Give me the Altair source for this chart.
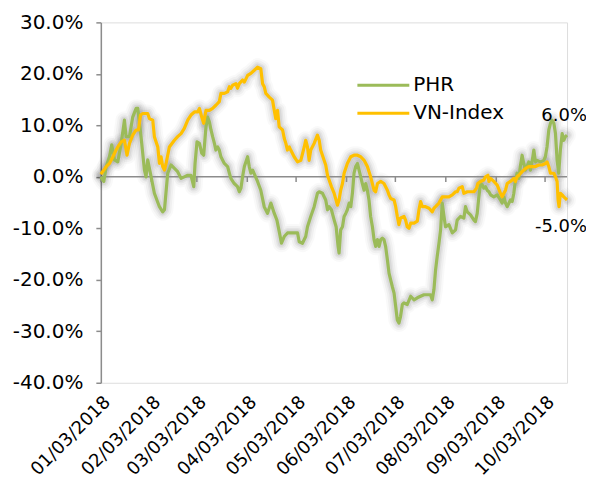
import altair as alt
import pandas as pd

# ---- data (days since 03 Jan 2018, cumulative return in %) ----
phr_day = [0.0, 1.8, 3.3, 5.3, 6.7, 8.4, 10.4, 12.5, 14.5, 15.5, 17.6, 19.6, 21.7, 22.7, 24.7, 26.8, 27.8, 28.8,
           30.9, 32.9, 36.0, 38.0, 39.1, 41.1, 43.1, 47.2, 49.3, 51.3, 53.4, 55.4, 57.1, 57.9, 59.1, 60.6, 62.0,
           63.2, 64.6, 65.6, 66.7, 67.7, 68.7, 69.8, 70.7, 71.8, 72.8, 73.8, 75.9, 77.9, 79.0, 79.9, 82.0, 84.0,
           85.1, 86.1, 87.1, 88.2, 90.2, 91.2, 92.2, 93.3, 94.7, 96.3, 98.3, 100.4, 102.4, 104.5, 106.6, 108.2,
           109.6, 111.0, 112.7, 114.7, 116.7, 118.8, 120.9, 121.9, 123.9, 125.9, 127.0, 129.0, 131.1, 133.1,
           134.2, 136.2, 138.2, 139.3, 140.3, 141.7, 143.4, 144.6, 145.8, 146.4, 147.4, 148.5, 149.5, 150.5,
           151.5, 152.6, 153.6, 154.6, 155.6, 156.6, 157.7, 158.7, 159.7, 160.7, 161.8, 162.8, 163.8, 164.8,
           165.8, 166.9, 167.9, 168.9, 170.0, 171.0, 172.0, 173.0, 174.0, 175.0, 176.1, 177.1, 178.1, 179.1,
           180.2, 181.2, 182.2, 183.2, 184.2, 185.3, 186.3, 188.3, 190.4, 192.5, 194.5, 196.5, 198.6, 200.6,
           202.6, 203.7, 204.7, 205.7, 206.7, 207.8, 208.8, 209.8, 210.9, 211.8, 213.9, 216.0, 218.0, 219.0,
           221.0, 223.1, 224.1, 225.2, 227.2, 229.3, 230.2, 231.3, 232.3, 233.3, 234.4, 235.4, 236.4, 237.4,
           238.5, 239.5, 241.5, 243.6, 245.6, 246.6, 247.7, 248.7, 249.7, 251.7, 252.8, 253.8, 254.8, 255.8,
           256.9, 257.8, 258.9, 259.9, 260.9, 262.0, 263.0, 264.0, 265.0, 266.1, 267.1, 268.1, 270.1, 272.2,
           273.2, 274.2, 275.3, 276.3, 277.3, 278.4, 279.4, 280.4, 281.4, 282.4, 283.5, 284.5, 285.5, 286.5]
phr_val = [0.0, -0.9, 2.0, 3.9, 6.2, 3.3, 2.9, 6.5, 11.0, 7.8, 7.8, 11.6, 13.3, 13.3, 7.8, 1.3, 0.0, 3.3,
           0.0, -3.2, -5.8, -6.8, -6.4, 0.7, 2.3, 1.0, -0.3, 0.0, 0.3, 0.3, -1.9, 2.6, 6.8, 6.5, 4.6,
           4.2, 9.7, 11.6, 10.7, 9.1, 7.8, 6.5, 5.2, 5.8, 5.2, 3.9, 2.6, 2.0, 0.7, -0.3, -1.3, -1.9,
           -2.9, -2.2, 0.0, 2.0, 3.9, 2.0, 0.7, 1.3, 0.3, -0.9, -2.6, -5.8, -7.1, -5.1, -7.1, -8.4,
           -10.6, -12.9, -11.6, -10.9, -10.9, -10.9, -10.9, -12.6, -12.9, -11.6, -9.7, -7.7, -5.8, -3.2,
           -2.9, -3.2, -4.5, -6.4, -5.8, -6.4, -8.4, -9.7, -13.5, -14.8, -10.3, -9.7, -7.7, -7.1,
           -6.4, -5.1, -5.8, -3.2, 0.7, 2.0, 2.6, 1.3, 0.0, -1.3, -2.6, -1.3, -2.6, -4.5,
           -7.7, -9.7, -12.2, -13.5, -12.2, -13.5, -12.2, -11.9, -12.2, -13.5, -16.1, -18.7, -20.0, -21.3,
           -22.6, -25.2, -27.8, -28.4, -27.1, -24.8, -24.5, -24.8, -23.2, -23.9, -23.5, -23.2, -22.9, -22.9,
           -22.9, -23.9, -21.9, -18.1, -15.5, -12.9, -10.3, -5.1, -7.7, -9.7, -9.3, -10.9, -10.3, -8.4,
           -7.7, -8.0, -5.8, -6.8, -7.4, -8.4, -8.7, -7.1, -3.9, -1.3, -1.6, -2.2, -1.9, -2.6,
           -2.9, -3.5, -3.9, -3.5, -4.5, -5.1, -3.9, -5.1, -5.8, -4.5, -4.8, -3.2, -0.6, 0.7,
           -0.3, 2.0, 4.2, 2.6, 1.3, 2.0, 2.9, 1.3, 2.9, 5.2, 2.9, 3.2, 2.9, 3.2,
           3.9, 5.8, 9.1, 10.4, 11.0, 10.4, 8.4, 3.2, 0.7, 5.2, 8.4, 7.1, 7.8, 8.1]

vn_day = [0.0, 1.8, 3.3, 5.3, 7.4, 9.4, 10.4, 12.5, 14.5, 16.1, 17.6, 19.6, 21.7, 23.1, 24.4, 25.8, 28.8, 29.9,
          31.9, 32.9, 35.0, 36.0, 37.0, 38.0, 39.1, 40.1, 42.1, 45.2, 47.2, 49.3, 51.3, 53.4, 55.4, 57.5,
          59.5, 60.6, 62.0, 63.2, 64.6, 66.7, 68.7, 70.7, 72.8, 73.8, 75.9, 77.9, 79.0, 79.9, 81.0, 83.0,
          84.0, 85.1, 87.1, 88.2, 90.2, 92.2, 94.3, 96.3, 98.3, 99.4, 100.4, 101.4, 103.5, 105.5, 106.6,
          107.5, 108.6, 109.6, 111.7, 112.7, 113.7, 114.7, 115.8, 116.7, 118.8, 120.9, 122.9, 125.0, 125.9,
          127.0, 128.0, 129.0, 131.1, 133.1, 134.2, 135.1, 137.2, 138.2, 139.3, 140.3, 141.7, 143.4, 145.4,
          146.4, 147.4, 148.5, 149.5, 151.5, 153.6, 155.6, 157.7, 159.7, 161.8, 163.8, 165.8, 167.9, 168.9,
          170.0, 172.0, 174.0, 176.1, 177.1, 178.1, 180.2, 181.2, 182.2, 183.2, 184.2, 186.3, 187.3, 188.3,
          189.4, 190.4, 192.5, 194.5, 195.5, 196.5, 197.6, 199.6, 201.7, 203.7, 204.7, 205.7, 207.8, 209.8,
          211.8, 213.9, 216.0, 218.0, 219.0, 220.1, 222.1, 223.1, 225.2, 227.2, 229.3, 230.9, 231.7, 233.3,
          235.4, 236.4, 237.9, 238.5, 239.5, 241.5, 243.6, 245.6, 246.6, 247.7, 248.7, 249.7, 251.7, 252.8,
          253.8, 254.8, 255.8, 256.9, 258.9, 260.9, 263.0, 265.0, 267.1, 269.1, 271.2, 273.2, 274.2, 275.3,
          276.3, 278.4, 279.4, 280.4, 281.0, 281.6, 282.4, 283.5, 284.5, 285.5, 286.5]
vn_val = [0.5, 1.3, 2.0, 2.6, 3.9, 5.2, 5.8, 6.8, 7.1, 4.2, 6.5, 8.1, 9.1, 9.1, 12.0, 12.3, 12.3, 11.3,
          11.0, 7.8, 5.8, 2.6, 3.9, 2.0, 1.3, 2.6, 5.8, 7.1, 7.8, 8.4, 9.4, 11.0, 12.0, 12.6,
          12.6, 13.3, 11.6, 10.4, 12.9, 12.9, 13.3, 13.9, 14.6, 16.2, 16.2, 16.5, 17.5, 17.2, 17.8, 18.1,
          17.2, 18.1, 18.8, 18.4, 19.7, 20.1, 20.7, 21.3, 21.0, 18.1, 17.5, 16.2, 15.5, 14.9, 12.9,
          11.3, 12.9, 9.7, 9.1, 7.5, 6.5, 5.2, 5.8, 5.2, 3.9, 2.9, 3.2, 5.8, 7.1,
          5.8, 3.2, 5.2, 6.5, 8.1, 7.1, 5.2, 3.2, 2.3, 0.3, -0.6, -1.9, -3.2, -5.5,
          -4.5, -2.6, -1.3, 0.7, 2.6, 3.9, 4.2, 4.2, 3.9, 3.2, 2.0, 0.0, -2.6, -2.9,
          -1.3, -0.9, -1.3, -2.6, -3.5, -4.2, -4.5, -5.8, -7.7, -9.3, -8.0, -7.7, -8.4, -9.7,
          -10.0, -9.0, -9.0, -8.6, -6.4, -4.8, -5.8, -5.8, -6.1, -6.8, -6.1, -5.8, -5.1, -3.9,
          -3.9, -3.9, -3.5, -2.9, -2.9, -2.2, -1.9, -3.2, -2.9, -2.9, -2.9, -2.2, -1.3, -0.9,
          -0.6, 0.0, 0.3, -0.9, -0.3, -0.9, -1.6, -3.2, -3.9, -3.2, -2.6, -1.3, -0.9, -0.6,
          -0.3, -0.9, 0.0, 0.3, 1.0, 1.6, 2.0, 2.0, 2.0, 2.3, 2.3, 2.6, 2.9, 2.0,
          0.7, 0.7, 0.0, -0.9, -4.5, -5.8, -3.2, -3.5, -3.9, -4.2, -4.5]

series_names = ["PHR", "VN-Index"]
series_colors = ["#9BBB59", "#FFC000"]

month_days = [0, 31, 59, 90, 120, 151, 181, 212, 243, 273]
month_labels = ["01/03/2018", "02/03/2018", "03/03/2018", "04/03/2018", "05/03/2018",
                "06/03/2018", "07/03/2018", "08/03/2018", "09/03/2018", "10/03/2018"]
y_ticks = [-0.4, -0.3, -0.2, -0.1, 0.0, 0.1, 0.2, 0.3]

end_labels = ["6.0%", "-5.0%"]
end_label_y = [11.8, -9.7]

FONT = "DejaVu Sans"
FS = 20
AXIS_GRAY = "#8C8C8C"

# ---- tables ----
lines_df = pd.concat([
    pd.DataFrame({"day": phr_day, "ret": [v / 100 for v in phr_val], "series": "PHR"}),
    pd.DataFrame({"day": vn_day, "ret": [v / 100 for v in vn_val], "series": "VN-Index"}),
], ignore_index=True)
lines_df["order"] = range(len(lines_df))

ticks_df = pd.DataFrame({"day": month_days, "ret": 0.0, "ret_low": -0.01})
ann_df = pd.DataFrame({"label": end_labels, "ret": [v / 100 for v in end_label_y]})

x_scale = alt.Scale(domain=[0, 286.5], nice=False, zero=False)
y_scale = alt.Scale(domain=[-0.4, 0.3], nice=False, zero=False)

label_expr = ("[" + ",".join("'%s'" % s for s in month_labels) + "][indexof(["
              + ",".join(str(d) for d in month_days) + "], datum.value)]")

x_axis = alt.Axis(values=month_days, labelExpr=label_expr, labelAngle=315, ticks=False, domain=False,
                  grid=False, labelFont=FONT, labelFontSize=18, labelColor="#000000", title=None,
                  labelPadding=10, labelOverlap=False)
y_axis = alt.Axis(values=y_ticks, format=".1%", labelExpr="replace(datum.label, '\u2212', '-')",
                  tickSize=5, tickColor=AXIS_GRAY, domainColor=AXIS_GRAY, domainWidth=1.5, tickWidth=1.5,
                  labelPadding=13, grid=False, labelFont=FONT, labelFontSize=FS, labelColor="#000000",
                  title=None, labelOverlap=False)

base = alt.Chart(lines_df).encode(
    x=alt.X("day:Q", scale=x_scale, axis=x_axis, title=None),
    y=alt.Y("ret:Q", scale=y_scale, axis=y_axis, title=None),
    detail="series:N",
    order="order:Q",
)

glow_layers = [
    base.mark_line(strokeJoin="round", strokeCap="round").encode(
        color=alt.value("#000000"),
        opacity=alt.value(o),
        strokeWidth=alt.value(w),
    )
    for w, o in [(18, 0.025), (14, 0.035), (10, 0.045), (7, 0.055)]
]

color_scale = alt.Scale(domain=series_names, range=series_colors)
main = base.mark_line(strokeWidth=3.2, strokeJoin="round").encode(
    color=alt.Color("series:N", scale=color_scale, legend=None)
)

zero_rule = alt.Chart(ticks_df).mark_rule(color=AXIS_GRAY, strokeWidth=1.5).encode(
    y=alt.Y("mean(ret):Q", title=None)
)
tick_marks = alt.Chart(ticks_df).mark_rule(color=AXIS_GRAY, strokeWidth=1.5).encode(
    x=alt.X("day:Q", title=None),
    y=alt.Y("ret:Q", title=None),
    y2="ret_low:Q",
)

ann = alt.Chart(ann_df).mark_text(align="right", baseline="middle", font=FONT, fontSize=18,
                                  color="#000000").encode(
    x=alt.value(487),
    y=alt.Y("ret:Q", title=None),
    text="label:N",
)

legend_layers = []
for i, (name, col) in enumerate(zip(series_names, series_colors)):
    ldf = pd.DataFrame({"series": [name]})
    ypix = 63 + 28 * i
    legend_layers.append(
        alt.Chart(ldf).mark_rule(strokeWidth=3.2, color=col).encode(
            x=alt.value(257), x2=alt.value(309), y=alt.value(ypix))
    )
    legend_layers.append(
        alt.Chart(ldf).mark_text(align="left", baseline="middle", font=FONT, fontSize=FS,
                                 color="#000000").encode(
            x=alt.value(313), y=alt.value(ypix), text="series:N")
    )

chart = alt.layer(*glow_layers, zero_rule, tick_marks, main, ann, *legend_layers).properties(
    width=467, height=361,
    autosize=alt.AutoSizeParams(type="none"),
    padding={"left": 93, "top": 14, "right": 19, "bottom": 98},
).configure_view(strokeWidth=0).configure(background="white")

chart.save("out.html", embed_options={"renderer": "svg", "actions": False})
